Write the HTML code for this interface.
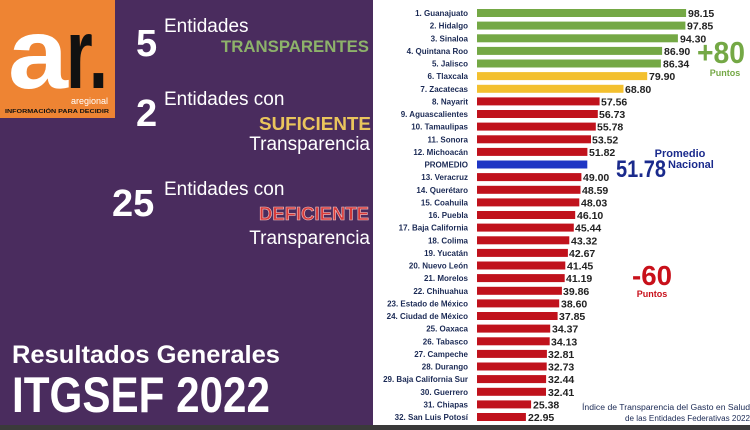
<!DOCTYPE html>
<html><head><meta charset="utf-8"><style>
html,body{margin:0;padding:0;background:#fff;}
svg{display:block;font-family:"Liberation Sans",sans-serif;}
.l{font-size:8px;font-weight:bold;fill:#1b2a55;text-anchor:end;}
.v{font-size:10.5px;font-weight:bold;fill:#222;}
</style></head><body>
<svg width="750" height="430" viewBox="0 0 750 430" xmlns="http://www.w3.org/2000/svg">
<rect width="750" height="430" fill="#fff"/>
<rect x="0" y="0" width="373" height="425" fill="#4a2c5e"/>
<rect x="0" y="425" width="750" height="5" fill="#3a3a3a"/>
<!-- logo -->
<rect x="0" y="0" width="115" height="118" fill="#ee8433"/>
<text x="8" y="88" font-size="100" font-weight="bold" fill="#fff" textLength="60" lengthAdjust="spacingAndGlyphs">a</text>
<text x="66" y="88" font-size="100" font-weight="bold" fill="#111" textLength="42" lengthAdjust="spacingAndGlyphs">r.</text>
<text x="108" y="104" font-size="9" fill="#fff" text-anchor="end">aregional</text>
<text x="5" y="113" font-size="5.2" font-weight="bold" fill="#111" textLength="104" lengthAdjust="spacingAndGlyphs">INFORMACIÓN PARA DECIDIR</text>
<!-- left texts -->
<g fill="#fff">
<text x="136" y="56" font-size="38" font-weight="bold">5</text>
<text x="164" y="32" font-size="19">Entidades</text>
<text x="136" y="126" font-size="38" font-weight="bold">2</text>
<text x="164" y="105" font-size="19">Entidades con</text>
<text x="370" y="150" font-size="19" text-anchor="end">Transparencia</text>
<text x="112" y="216" font-size="38" font-weight="bold">25</text>
<text x="164" y="195" font-size="19">Entidades con</text>
<text x="370" y="244" font-size="19" text-anchor="end">Transparencia</text>
<text x="12" y="363" font-size="25" font-weight="bold" textLength="268" lengthAdjust="spacingAndGlyphs">Resultados Generales</text>
<text x="12" y="412" font-size="50" font-weight="bold" textLength="258" lengthAdjust="spacingAndGlyphs">ITGSEF 2022</text>
</g>
<text x="369" y="52" font-size="17" font-weight="bold" fill="#8db26a" text-anchor="end" textLength="148" lengthAdjust="spacingAndGlyphs">TRANSPARENTES</text>
<text x="371" y="130" font-size="18" font-weight="bold" fill="#eac55c" text-anchor="end" textLength="112" lengthAdjust="spacingAndGlyphs">SUFICIENTE</text>
<text x="369" y="220" font-size="18" font-weight="bold" fill="#d83a3a" stroke="#f0c0c0" stroke-width="0.6" text-anchor="end" textLength="110" lengthAdjust="spacingAndGlyphs">DEFICIENTE</text>
<!-- bars -->
<g>
<rect x="477" y="9" width="209.1" height="8" fill="#74a845"/><text class="l" x="468" y="16">1. Guanajuato</text><text class="v" x="688" y="17">98.15</text>
<rect x="477" y="21.6" width="208.4" height="8" fill="#74a845"/><text class="l" x="468" y="28.6">2. Hidalgo</text><text class="v" x="687" y="29.6">97.85</text>
<rect x="477" y="34.3" width="200.9" height="8" fill="#74a845"/><text class="l" x="468" y="41.3">3. Sinaloa</text><text class="v" x="680" y="42.3">94.30</text>
<rect x="477" y="46.9" width="185.1" height="8" fill="#74a845"/><text class="l" x="468" y="53.9">4. Quintana Roo</text><text class="v" x="664" y="54.9">86.90</text>
<rect x="477" y="59.5" width="183.9" height="8" fill="#74a845"/><text class="l" x="468" y="66.5">5. Jalisco</text><text class="v" x="663" y="67.5">86.34</text>
<rect x="477" y="72.1" width="170.2" height="8" fill="#f3c02f"/><text class="l" x="468" y="79.1">6. Tlaxcala</text><text class="v" x="649" y="80.1">79.90</text>
<rect x="477" y="84.8" width="146.5" height="8" fill="#f3c02f"/><text class="l" x="468" y="91.8">7. Zacatecas</text><text class="v" x="625" y="92.8">68.80</text>
<rect x="477" y="97.4" width="122.6" height="8" fill="#c0121c"/><text class="l" x="468" y="104.4">8. Nayarit</text><text class="v" x="601" y="105.4">57.56</text>
<rect x="477" y="110" width="120.8" height="8" fill="#c0121c"/><text class="l" x="468" y="117">9. Aguascalientes</text><text class="v" x="599" y="118">56.73</text>
<rect x="477" y="122.6" width="118.8" height="8" fill="#c0121c"/><text class="l" x="468" y="129.6">10. Tamaulipas</text><text class="v" x="597" y="130.6">55.78</text>
<rect x="477" y="135.3" width="114" height="8" fill="#c0121c"/><text class="l" x="468" y="142.3">11. Sonora</text><text class="v" x="592" y="143.3">53.52</text>
<rect x="477" y="147.9" width="110.4" height="8" fill="#c0121c"/><text class="l" x="468" y="154.9">12. Michoacán</text><text class="v" x="589" y="155.9">51.82</text>
<rect x="477" y="160.5" width="110.3" height="8" fill="#1e35c4"/><text class="l" x="468" y="167.5">PROMEDIO</text>
<rect x="477" y="173.1" width="104.4" height="8" fill="#c0121c"/><text class="l" x="468" y="180.1">13. Veracruz</text><text class="v" x="583" y="181.1">49.00</text>
<rect x="477" y="185.8" width="103.5" height="8" fill="#c0121c"/><text class="l" x="468" y="192.8">14. Querétaro</text><text class="v" x="582" y="193.8">48.59</text>
<rect x="477" y="198.4" width="102.3" height="8" fill="#c0121c"/><text class="l" x="468" y="205.4">15. Coahuila</text><text class="v" x="581" y="206.4">48.03</text>
<rect x="477" y="211" width="98.2" height="8" fill="#c0121c"/><text class="l" x="468" y="218">16. Puebla</text><text class="v" x="577" y="219">46.10</text>
<rect x="477" y="223.6" width="96.8" height="8" fill="#c0121c"/><text class="l" x="468" y="230.6">17. Baja California</text><text class="v" x="575" y="231.6">45.44</text>
<rect x="477" y="236.3" width="92.3" height="8" fill="#c0121c"/><text class="l" x="468" y="243.3">18. Colima</text><text class="v" x="571" y="244.3">43.32</text>
<rect x="477" y="248.9" width="90.9" height="8" fill="#c0121c"/><text class="l" x="468" y="255.9">19. Yucatán</text><text class="v" x="569" y="256.9">42.67</text>
<rect x="477" y="261.5" width="88.3" height="8" fill="#c0121c"/><text class="l" x="468" y="268.5">20. Nuevo León</text><text class="v" x="567" y="269.5">41.45</text>
<rect x="477" y="274.1" width="87.7" height="8" fill="#c0121c"/><text class="l" x="468" y="281.1">21. Morelos</text><text class="v" x="566" y="282.1">41.19</text>
<rect x="477" y="286.8" width="84.9" height="8" fill="#c0121c"/><text class="l" x="468" y="293.8">22. Chihuahua</text><text class="v" x="563" y="294.8">39.86</text>
<rect x="477" y="299.4" width="82.2" height="8" fill="#c0121c"/><text class="l" x="468" y="306.4">23. Estado de México</text><text class="v" x="561" y="307.4">38.60</text>
<rect x="477" y="312" width="80.6" height="8" fill="#c0121c"/><text class="l" x="468" y="319">24. Ciudad de México</text><text class="v" x="559" y="320">37.85</text>
<rect x="477" y="324.6" width="73.2" height="8" fill="#c0121c"/><text class="l" x="468" y="331.6">25. Oaxaca</text><text class="v" x="552" y="332.6">34.37</text>
<rect x="477" y="337.3" width="72.7" height="8" fill="#c0121c"/><text class="l" x="468" y="344.3">26. Tabasco</text><text class="v" x="551" y="345.3">34.13</text>
<rect x="477" y="349.9" width="69.9" height="8" fill="#c0121c"/><text class="l" x="468" y="356.9">27. Campeche</text><text class="v" x="548" y="357.9">32.81</text>
<rect x="477" y="362.5" width="69.7" height="8" fill="#c0121c"/><text class="l" x="468" y="369.5">28. Durango</text><text class="v" x="548" y="370.5">32.73</text>
<rect x="477" y="375.1" width="69.1" height="8" fill="#c0121c"/><text class="l" x="468" y="382.1">29. Baja California Sur</text><text class="v" x="548" y="383.1">32.44</text>
<rect x="477" y="387.8" width="69" height="8" fill="#c0121c"/><text class="l" x="468" y="394.8">30. Guerrero</text><text class="v" x="548" y="395.8">32.41</text>
<rect x="477" y="400.4" width="54.1" height="8" fill="#c0121c"/><text class="l" x="468" y="407.4">31. Chiapas</text><text class="v" x="533" y="408.4">25.38</text>
<rect x="477" y="413" width="48.9" height="8" fill="#c0121c"/><text class="l" x="468" y="420">32. San Luis Potosí</text><text class="v" x="528" y="421">22.95</text>
</g>
<!-- annotations -->
<text x="697" y="63" font-size="31" font-weight="bold" fill="#74a845" textLength="48" lengthAdjust="spacingAndGlyphs">+80</text>
<text x="725" y="76" font-size="9" font-weight="bold" fill="#74a845" text-anchor="middle">Puntos</text>
<text x="680" y="157" font-size="11" font-weight="bold" fill="#1a2a8c" text-anchor="middle">Promedio</text>
<text x="616" y="177" font-size="24" font-weight="bold" fill="#1a2a8c" textLength="50" lengthAdjust="spacingAndGlyphs">51.78</text>
<text x="668" y="168" font-size="11" font-weight="bold" fill="#1a2a8c">Nacional</text>
<text x="632" y="285" font-size="28" font-weight="bold" fill="#c8101a" textLength="40" lengthAdjust="spacingAndGlyphs">-60</text>
<text x="652" y="297" font-size="9" font-weight="bold" fill="#c8101a" text-anchor="middle">Puntos</text>
<text x="750" y="410" font-size="8" fill="#1b2a55" text-anchor="end" textLength="168" lengthAdjust="spacingAndGlyphs">Índice de Transparencia del Gasto en Salud</text>
<text x="750" y="421" font-size="8" fill="#1b2a55" text-anchor="end" textLength="125" lengthAdjust="spacingAndGlyphs">de las Entidades Federativas 2022</text>
</svg>
</body></html>
